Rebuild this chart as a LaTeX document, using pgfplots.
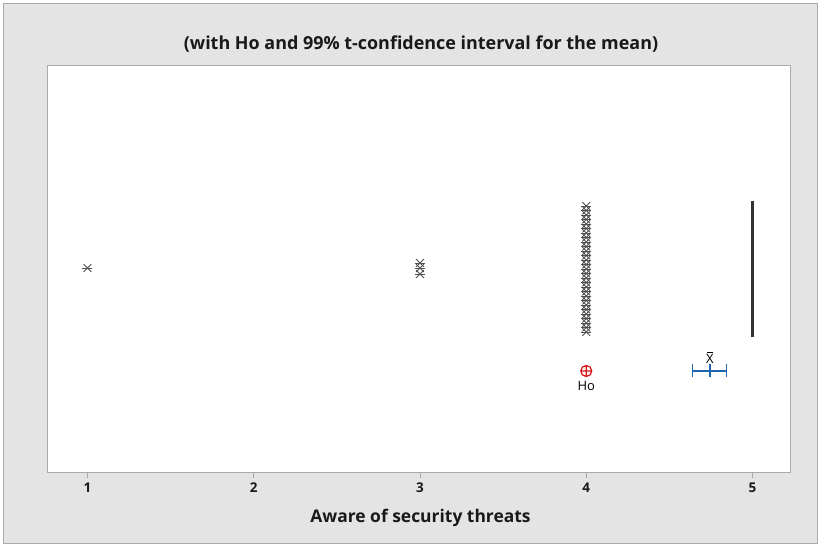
\documentclass[border=0pt]{standalone}
\usepackage{pgfplots}
\pgfplotsset{compat=1.18}
\usepackage{fontspec}
\setmainfont{Open Sans}
\definecolor{bgray}{RGB}{228,228,228}
\definecolor{fgray}{RGB}{170,170,170}
\definecolor{outl}{RGB}{80,80,80}
\definecolor{ciblue}{RGB}{31,100,174}
\definecolor{hored}{RGB}{220,20,20}
\begin{document}
\begin{tikzpicture}[x=1bp,y=1bp]
\fill[white] (-47,-74) rectangle (773,472);
\filldraw[fill=bgray,draw=fgray,line width=0.8bp] (-44,-71) rectangle (770,469);
\begin{axis}[
  at={(0,0)}, anchor=south west,
  scale only axis, width=743bp, height=407bp,
  xmin=0.7564, xmax=5.2256, ymin=0, ymax=407,
  axis background/.style={fill=white},
  axis line style={draw=fgray,line width=0.9bp},
  xtick={1,2,3,4,5}, ytick=\empty,
  xtick pos=bottom, tick align=outside,
  major tick length=6bp,
  tick style={draw=fgray,line width=0.8bp},
  /pgf/number format/assume math mode=true,
  ticklabel style={font=\fontsize{13.5}{15}\selectfont\bfseries, text=black!90},
  xticklabel style={yshift=-1bp},
  clip=false,
]
% outliers (asterisk-like: x + horizontal bar)
\pgfplotstableread{
x y
1 204
3 209
3 204
3 198
4 266
4 261.5
4 257
4 252.5
4 248
4 243.5
4 239
4 234.5
4 230
4 225.5
4 221
4 216.5
4 212
4 207.5
4 203
4 198.5
4 194
4 189.5
4 185
4 180.5
4 176
4 171.5
4 167
4 162.5
4 158
4 153.5
4 149
4 144.5
4 140
}\outliers
\addplot[only marks, mark=x, mark size=5.5bp, mark options={draw=outl,line width=0.9bp}] table {\outliers};
\addplot[only marks, mark=-, mark size=5bp, mark options={draw=outl,line width=0.9bp}] table {\outliers};
% collapsed box at 5
\addplot[draw=black!80, line width=2.4bp] coordinates {(5,135) (5,271)};
% confidence interval for mean
\addplot[draw=ciblue, line width=1.5bp, mark=|, mark size=6.5bp, mark options={line width=1.5bp}] coordinates {(4.640,101) (4.744,101) (4.845,101)};
% Ho
\addplot[only marks, mark=oplus, mark size=5.5bp, mark options={draw=hored,line width=1.2bp}] coordinates {(4,101)};
\node[font=\fontsize{13}{15}\selectfont] at (axis cs:4,86) {Ho};
\node[font=\fontsize{13}{15}\selectfont, anchor=south] at (axis cs:4.744,105) {\shortstack{\rule{6bp}{0.8bp}\\[-1.5bp]X}};
\end{axis}
\node[font=\fontsize{18}{20}\selectfont\bfseries, text=black!90] at (374,428) {(with Ho and 99\% t-confidence interval for the mean)};
\node[font=\fontsize{17.5}{22}\selectfont\bfseries, text=black!90] at (373.5,-46) {Aware of security threats};
\end{tikzpicture}
\end{document}
